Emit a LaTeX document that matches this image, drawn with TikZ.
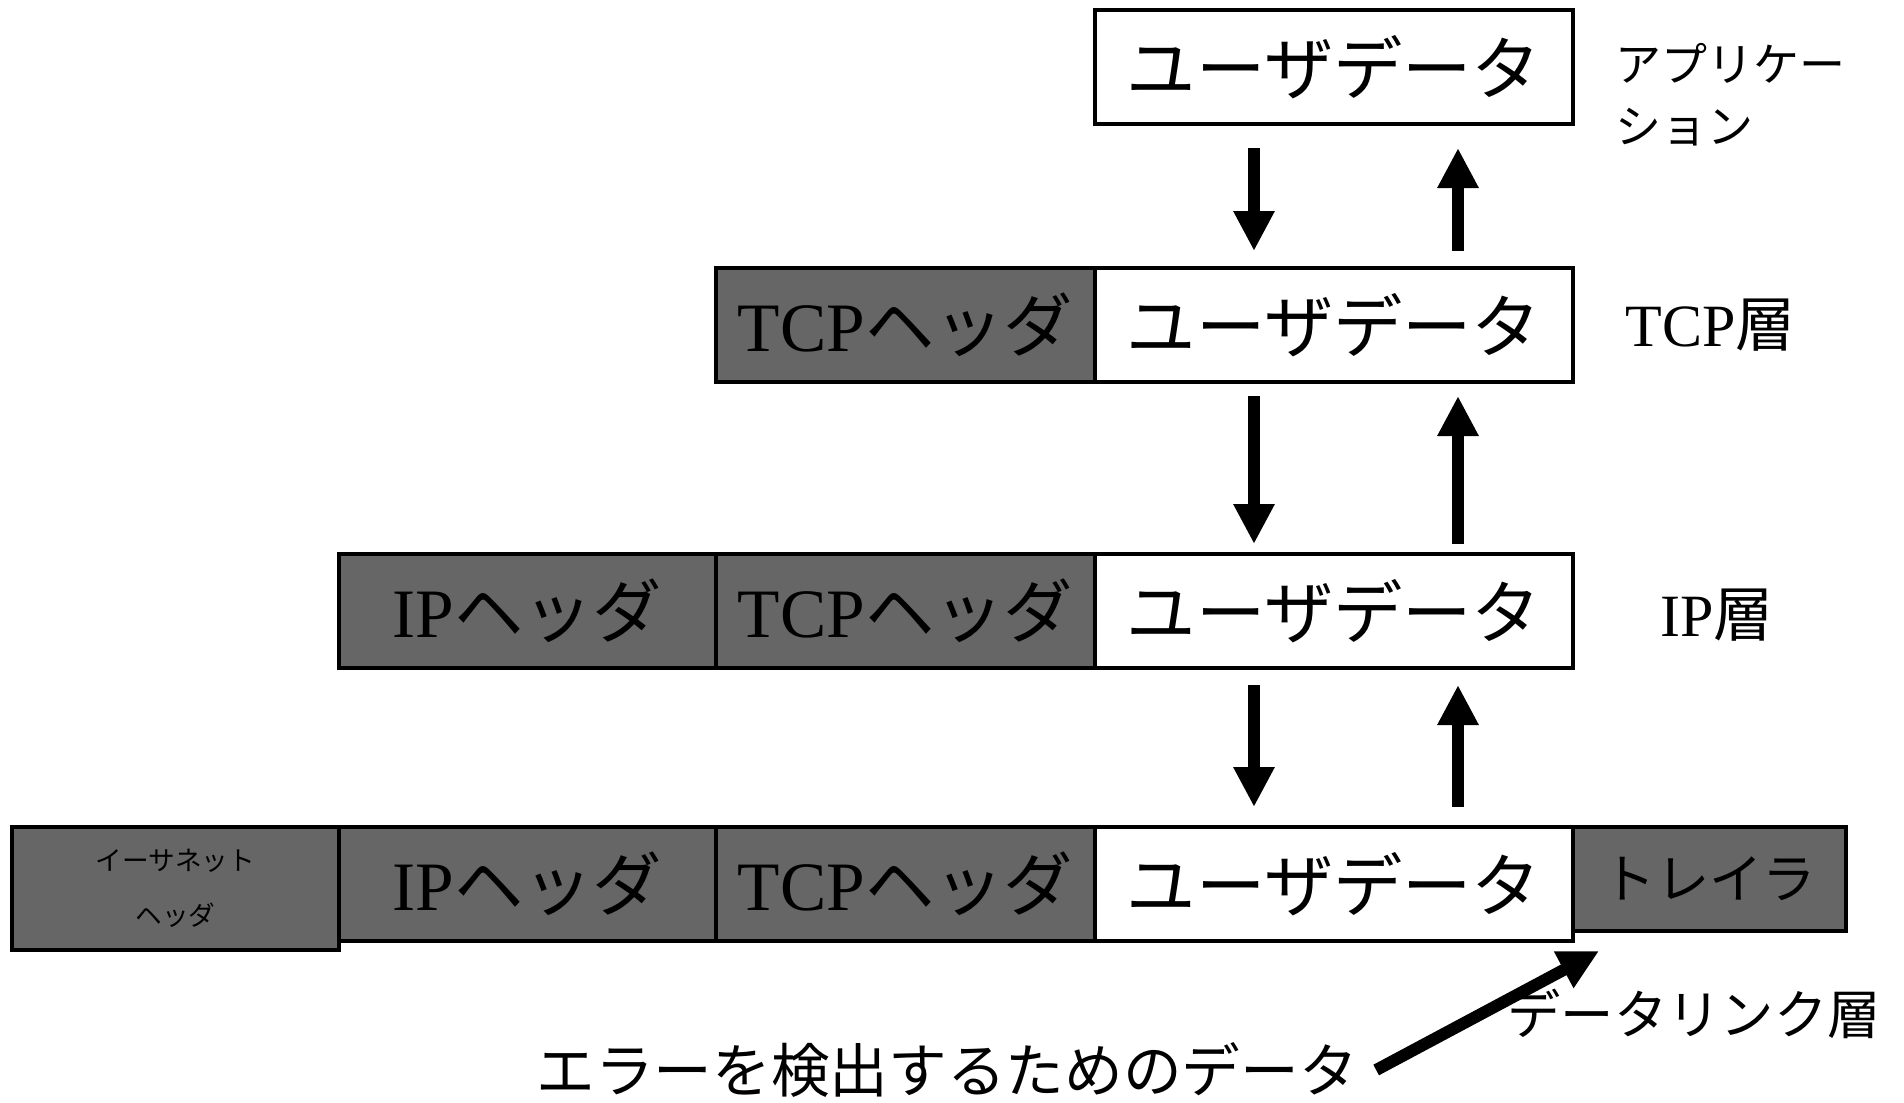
\documentclass[tikz,border=0pt]{standalone}
\usepackage{fontspec}
\setmainfont{Liberation Serif}
\newfontfamily\jp{Noto Sans CJK JP}
\usetikzlibrary{arrows.meta,calc}

\definecolor{hdrgray}{RGB}{102,102,102}
\tikzset{every picture/.style={line width=0.75pt}}
\tikzset{
  pkt/.style={draw, line width=3pt, inner sep=0pt, minimum height=85.5pt, anchor=center},
  hdr/.style={pkt, fill=hdrgray},
  usr/.style={pkt, fill=white, minimum width=358.5pt},
  flow/.style={line width=9pt, -{Triangle[width=29pt,length=30pt]}},
  big/.style={font=\fontsize{52}{60}\selectfont},
}
\newcommand{\ud}{{\jp ユーザデータ}}

\begin{document}
\begin{tikzpicture}[x=0.75pt,y=0.75pt,yscale=-1,xscale=1]
		\useasboundingbox (0,0) rectangle (1904,1103);
		
		%row 1: application
		\node (u1) at (1334,67) [usr, big] {\ud};
		\node (app) at (1615,95) [anchor=west, align=left, inner sep=0pt, font=\jp\fontsize{34.5}{46.5}\selectfont] {アプリケー\\ション};
		
		%row 2: TCP
		\node (t2) at (905.5,325) [hdr, big, minimum width=284.25pt] {TCP{\jp ヘッダ}};
		\node (u2) at (1334,325) [usr, big] {\ud};
		\node (tcpl) at (1625,325) [anchor=west, inner sep=0pt, font=\fontsize{45}{50}\selectfont] {TCP{\jp 層}};
		
		%row 3: IP
		\node (i3) at (527.5,611) [hdr, big, minimum width=282.75pt] {IP{\jp ヘッダ}};
		\node (t3) at (905.5,611) [hdr, big, minimum width=284.25pt] {TCP{\jp ヘッダ}};
		\node (u3) at (1334,611) [usr, big] {\ud};
		\node (ipl) at (1660,615) [anchor=west, inner sep=0pt, font=\fontsize{45}{50}\selectfont] {IP{\jp 層}};
		
		%row 4: data link
		\node (e4) at (175.5,888.5) [hdr, minimum width=245.25pt, minimum height=92.25pt, align=center, font=\jp\fontsize{20}{41}\selectfont] {イーサネット\\ヘッダ};
		\node (i4) at (527.5,884) [hdr, big, minimum width=282.75pt] {IP{\jp ヘッダ}};
		\node (t4) at (905.5,884) [hdr, big, minimum width=284.25pt] {TCP{\jp ヘッダ}};
		\node (tr4) at (1709.5,879) [hdr, minimum width=204.75pt, minimum height=78pt, font=\jp\fontsize{40}{44}\selectfont] {トレイラ};
		\node (u4) at (1334,884) [usr, big] {\ud};
		
		%arrows between layers
		\draw [flow] ($(u1.south)+(-80,22)$) -- ($(u2.north)+(-80,-15)$);
		\draw [flow] ($(u2.north)+(124,-15)$) -- ($(u1.south)+(124,22)$);
		\draw [flow] ($(u2.south)+(-80,12)$) -- ($(u3.north)+(-80,-8)$);
		\draw [flow] ($(u3.north)+(124,-8)$) -- ($(u2.south)+(124,12)$);
		\draw [flow] ($(u3.south)+(-80,15)$) -- ($(u4.north)+(-80,-18)$);
		\draw [flow] ($(u4.north)+(124,-18)$) -- ($(u3.south)+(124,15)$);
		
		%error detection data
		\node (err) at (947,1070) [inner sep=0pt, font=\jp\fontsize{44}{48}\selectfont] {エラーを検出するためのデータ};
		\node (dll) at (1694,1014) [inner sep=0pt, font=\jp\fontsize{40}{44}\selectfont] {データリンク層};
		\draw [flow] ($(err.east)+(18,0)$) -- ($(u4.south east)+(24,8)$);
		
\end{tikzpicture}
\end{document}
